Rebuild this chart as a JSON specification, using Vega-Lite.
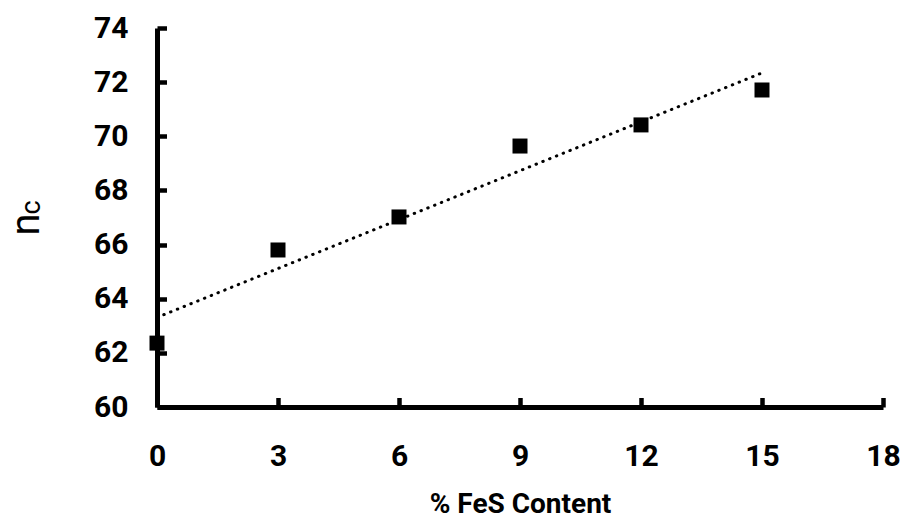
{
  "$schema": "https://vega.github.io/schema/vega-lite/v6.json",
  "width": 726,
  "height": 379,
  "autosize": {"type": "none"},
  "padding": {"left": 157, "top": 28, "right": 19, "bottom": 113},
  "background": "white",
  "title": {
    "text": "c",
    "orient": "left",
    "anchor": "middle",
    "font": "Roboto",
    "fontSize": 27,
    "fontWeight": "normal",
    "color": "black",
    "offset": 0,
    "dx": 10,
    "dy": 40
  },
  "config": {
    "view": {"stroke": null},
    "axis": {
      "domainColor": "black",
      "domainWidth": 5,
      "tickColor": "black",
      "tickWidth": 4.5,
      "tickSize": -9.5,
      "grid": false,
      "labelFlush": false,
      "labelColor": "black",
      "labelFont": "Roboto",
      "labelFontWeight": "bold",
      "labelFontSize": 30,
      "titleColor": "black"
    }
  },
  "data": {
    "values": [
      {"pct": 0, "nc": 62.36},
      {"pct": 3, "nc": 65.8},
      {"pct": 6, "nc": 67.02},
      {"pct": 9, "nc": 69.64},
      {"pct": 12, "nc": 70.42},
      {"pct": 15, "nc": 71.71}
    ]
  },
  "layer": [
    {
      "transform": [{"regression": "nc", "on": "pct", "extent": [0, 15]}],
      "mark": {"type": "line", "color": "black", "strokeWidth": 3, "strokeCap": "round", "strokeDash": [0.5, 6.8], "clip": false},
      "encoding": {
        "x": {"field": "pct", "type": "quantitative"},
        "y": {"field": "nc", "type": "quantitative"}
      }
    },
    {
      "mark": {"type": "point", "shape": "square", "filled": true, "color": "black", "opacity": 1, "size": 225, "clip": false},
      "encoding": {
        "x": {
          "field": "pct",
          "type": "quantitative",
          "scale": {"domain": [0, 18], "nice": false, "zero": false},
          "axis": {
            "values": [0, 3, 6, 9, 12, 15, 18],
            "labelPadding": 67.5,
            "labelBaseline": "alphabetic",
            "title": "% FeS Content",
            "titleFont": "Roboto",
            "titleFontWeight": "bold",
            "titleFontSize": 28,
            "titleBaseline": "alphabetic",
            "titleY": 105
          }
        },
        "y": {
          "field": "nc",
          "type": "quantitative",
          "scale": {"domain": [60, 74], "nice": false, "zero": false},
          "axis": {
            "values": [60, 62, 64, 66, 68, 70, 72, 74],
            "labelPadding": 38.5,
            "title": "n",
            "titleFont": "Roboto",
            "titleFontWeight": "normal",
            "titleFontSize": 40,
            "titleAngle": -90,
            "titleAlign": "center",
            "titleBaseline": "alphabetic",
            "titleX": -119,
            "titleY": 196
          }
        }
      }
    }
  ]
}
